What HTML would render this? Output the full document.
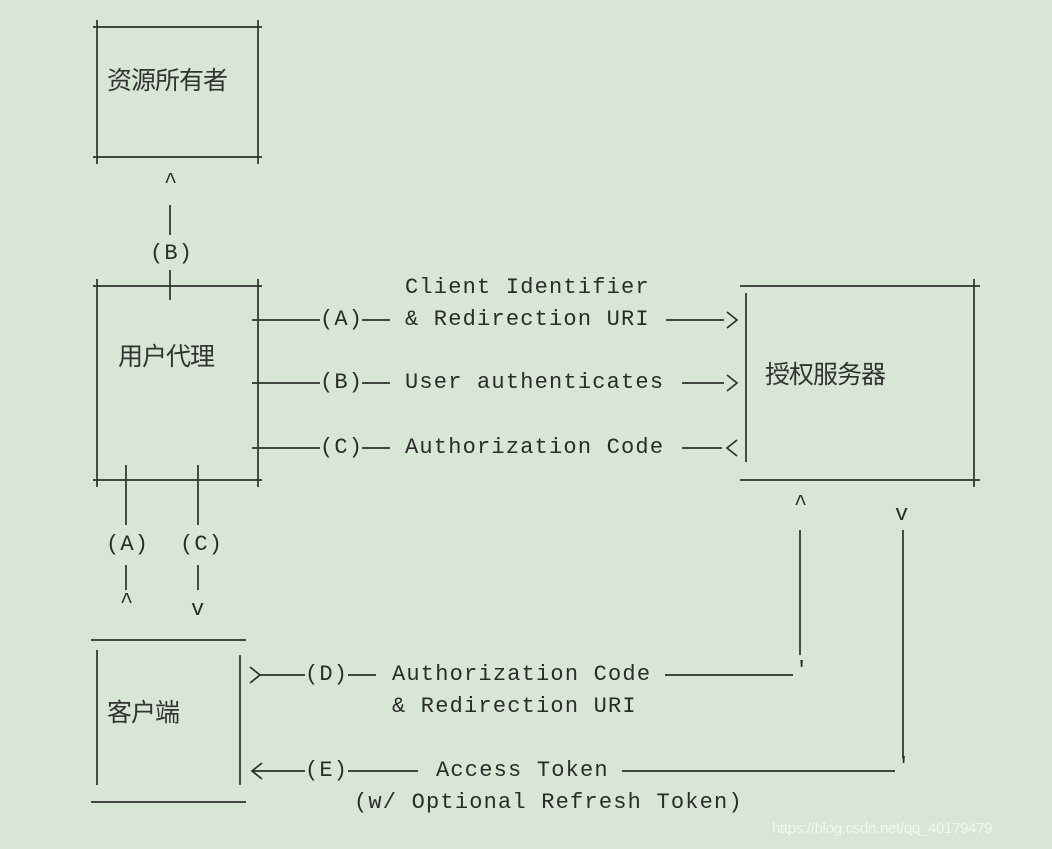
<!DOCTYPE html>
<html><head><meta charset="utf-8">
<style>
html,body{margin:0;padding:0}
body{width:1052px;height:849px;background:#d7e6d5;position:relative;overflow:hidden;color:#2b2b2b}
.t{position:absolute;font-family:"Liberation Mono","Noto Sans CJK SC",monospace;font-size:22px;line-height:22px;letter-spacing:1.2px;white-space:pre}
.c{position:absolute;font-family:"Liberation Sans","Noto Sans CJK SC",sans-serif;font-size:25px;line-height:26px;color:#333;letter-spacing:-1px}
svg{position:absolute;left:0;top:0}
</style></head><body>
<svg width="1052" height="849" stroke="#2f2f2f" stroke-width="1.7" fill="none">
<!-- box1 -->
<line x1="93" y1="27" x2="262" y2="27"/><line x1="93" y1="157" x2="262" y2="157"/>
<line x1="97" y1="20" x2="97" y2="164"/><line x1="258" y1="20" x2="258" y2="164"/>
<!-- B up -->
<line x1="170" y1="205" x2="170" y2="235"/><line x1="170" y1="270" x2="170" y2="300"/>
<!-- box2 -->
<line x1="93" y1="286" x2="262" y2="286"/><line x1="93" y1="480" x2="262" y2="480"/>
<line x1="97" y1="279" x2="97" y2="487"/><line x1="258" y1="279" x2="258" y2="487"/>
<line x1="126" y1="465" x2="126" y2="525"/><line x1="198" y1="465" x2="198" y2="525"/>
<line x1="126" y1="565" x2="126" y2="590"/><line x1="198" y1="565" x2="198" y2="590"/>
<!-- rows -->
<line x1="252" y1="320" x2="320" y2="320"/><line x1="362" y1="320" x2="390" y2="320"/><line x1="666" y1="320" x2="724" y2="320"/>
<polyline points="727,312 737,320 727,328"/>
<line x1="252" y1="383" x2="320" y2="383"/><line x1="362" y1="383" x2="390" y2="383"/><line x1="682" y1="383" x2="724" y2="383"/>
<polyline points="727,375 737,383 727,391"/>
<line x1="252" y1="448" x2="320" y2="448"/><line x1="362" y1="448" x2="390" y2="448"/><line x1="682" y1="448" x2="722" y2="448"/>
<polyline points="737,440 727,448 737,456"/>
<!-- box3 -->
<line x1="740" y1="286" x2="980" y2="286"/><line x1="740" y1="480" x2="980" y2="480"/>
<line x1="746" y1="293" x2="746" y2="462"/><line x1="974" y1="279" x2="974" y2="487"/>
<!-- right verticals -->
<line x1="800" y1="530" x2="800" y2="655"/><line x1="903" y1="530" x2="903" y2="758"/>
<line x1="665" y1="675" x2="793" y2="675"/><line x1="622" y1="771" x2="895" y2="771"/>
<!-- box4 -->
<line x1="91" y1="640" x2="246" y2="640"/><line x1="91" y1="802" x2="246" y2="802"/>
<line x1="97" y1="650" x2="97" y2="785"/><line x1="240" y1="655" x2="240" y2="785"/>
<polyline points="250,667 260,675 250,683"/><line x1="260" y1="675" x2="305" y2="675"/><line x1="348" y1="675" x2="376" y2="675"/>
<polyline points="262,763 252,771 262,779"/><line x1="252" y1="771" x2="305" y2="771"/><line x1="348" y1="771" x2="418" y2="771"/>
</svg>
<div class="c" style="left:107px;top:68px">资源所有者</div>
<div class="c" style="left:118px;top:344px">用户代理</div>
<div class="c" style="left:765px;top:362px">授权服务器</div>
<div class="c" style="left:107px;top:700px">客户端</div>
<div class="t" style="left:164px;top:172px">^</div>
<div class="t" style="left:150px;top:243px">(B)</div>
<div class="t" style="left:405px;top:277px">Client Identifier</div>
<div class="t" style="left:320px;top:309px">(A)</div>
<div class="t" style="left:405px;top:309px">&amp; Redirection URI</div>
<div class="t" style="left:320px;top:372px">(B)</div>
<div class="t" style="left:405px;top:372px">User authenticates</div>
<div class="t" style="left:320px;top:437px">(C)</div>
<div class="t" style="left:405px;top:437px">Authorization Code</div>
<div class="t" style="left:106px;top:534px">(A)</div>
<div class="t" style="left:180px;top:534px">(C)</div>
<div class="t" style="left:120px;top:592px">^</div>
<div class="t" style="left:191px;top:599px">v</div>
<div class="t" style="left:794px;top:494px">^</div>
<div class="t" style="left:895px;top:504px">v</div>
<div class="t" style="left:795px;top:660px">'</div>
<div class="t" style="left:897px;top:756px">'</div>
<div class="t" style="left:305px;top:664px">(D)</div>
<div class="t" style="left:392px;top:664px">Authorization Code</div>
<div class="t" style="left:392px;top:696px">&amp; Redirection URI</div>
<div class="t" style="left:305px;top:760px">(E)</div>
<div class="t" style="left:436px;top:760px">Access Token</div>
<div class="t" style="left:354px;top:792px">(w/ Optional Refresh Token)</div>
<div style="position:absolute;left:772px;top:820px;font-family:'Liberation Sans',sans-serif;font-size:15px;color:#f2f6f1;letter-spacing:-0.3px">https://blog.csdn.net/qq_40179479</div>
</body></html>
